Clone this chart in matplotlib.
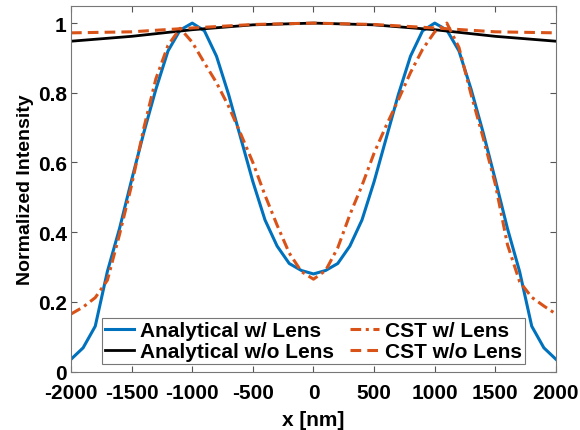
import numpy as np
import matplotlib
matplotlib.use('Agg')
import matplotlib.pyplot as plt

plt.rcParams['font.family'] = ['Liberation Sans', 'DejaVu Sans']
plt.rcParams['font.weight'] = 'bold'
plt.rcParams['axes.unicode_minus'] = False

# Analytical w/ Lens (100 nm grid, left half incl. 0, mirrored)
x_grid = np.arange(-2000, 2001, 100)
ana_lens_half = [0.035, 0.068, 0.13, 0.287, 0.41, 0.55, 0.685, 0.81, 0.92, 0.98, 1.0,
                 0.978, 0.905, 0.795, 0.67, 0.545, 0.435, 0.36, 0.31, 0.29, 0.28]
ana_lens = ana_lens_half + ana_lens_half[-2::-1]

# CST w/ Lens
cst_lens = [0.165, 0.185, 0.212, 0.262, 0.393, 0.535, 0.698, 0.84, 0.936, 0.985, 0.945,
            0.886, 0.829, 0.761, 0.682, 0.600, 0.506, 0.42, 0.34, 0.287, 0.265,
            0.29, 0.355, 0.45, 0.534, 0.627, 0.706, 0.78, 0.858, 0.925, 0.975,
            1.0, 0.93, 0.795, 0.67, 0.537, 0.364, 0.258, 0.213, 0.188, 0.165]

# Analytical w/o Lens and CST w/o Lens (coarser grid)
x_nolens = [-2000, -1500, -1000, -500, 0, 500, 1000, 1500, 2000]
ana_nolens = [0.948, 0.962, 0.981, 0.995, 1.0, 0.995, 0.981, 0.962, 0.948]
cst_nolens = [0.972, 0.975, 0.986, 0.996, 1.0, 0.996, 0.986, 0.975, 0.972]

blue = '#0072BD'
orange = '#D95319'

fig = plt.figure(figsize=(5.8, 4.31), dpi=100)
ax = fig.add_axes([0.1224, 0.1357, 0.8362, 0.8488])

ax.plot(x_grid, ana_lens, color=blue, lw=2.2, label='Analytical w/ Lens')
ax.plot(x_nolens, ana_nolens, color='black', lw=2.0, label='Analytical w/o Lens')
ax.plot(x_grid, cst_lens, color=orange, lw=2.2, ls=(0, (3.5, 1.5, 1, 1.5)), label='CST w/ Lens')
ax.plot(x_nolens, cst_nolens, color=orange, lw=2.2, ls=(0, (3.5, 2)), label='CST w/o Lens')

ax.set_xlim(-2000, 2000)
ax.set_ylim(0, 1.05)
ax.set_xticks(np.arange(-2000, 2001, 500))
ax.set_yticks([0, 0.2, 0.4, 0.6, 0.8, 1.0])
ax.set_yticklabels(['0', '0.2', '0.4', '0.6', '0.8', '1'])
ax.tick_params(direction='in', top=True, right=True, labelsize=15, length=4,
               color='#555555')
ax.tick_params(axis='x', pad=8)
ax.tick_params(axis='y', pad=3)
for s in ax.spines.values():
    s.set_color('#777777')
    s.set_linewidth(0.8)

ax.set_xlabel('x [nm]', fontsize=15, fontweight='bold', labelpad=6)
ax.set_ylabel('Normalized Intensity', fontsize=14, fontweight='bold', labelpad=3)

leg = ax.legend(ncol=2, loc='lower center', bbox_to_anchor=(0.5, 0.02), fontsize=15,
                frameon=True, fancybox=False, edgecolor='#555555', handlelength=1.4,
                handletextpad=0.3, columnspacing=0.75, borderpad=0.15, labelspacing=0.1,
                borderaxespad=0)
leg.get_frame().set_linewidth(0.8)

fig.savefig('out.png', dpi=100)
